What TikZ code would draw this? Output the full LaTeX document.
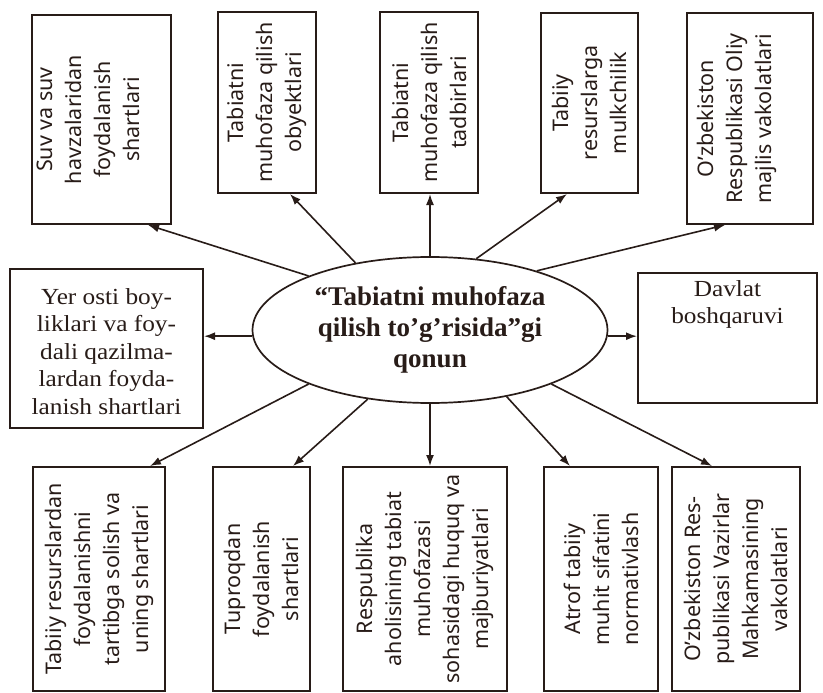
\documentclass[tikz,border=0pt]{standalone}
\usepackage{fontspec}
\setmainfont{Liberation Serif}
\newfontfamily\boxsans{Noto Sans}
\newfontfamily\midserif[FakeStretch=1.1]{Liberation Serif}
\usetikzlibrary{arrows.meta,shapes.geometric}
\definecolor{ink}{RGB}{40,28,24}

\begin{document}
\begin{tikzpicture}[x=1pt, y=-1pt]
\tikzset{basicbox/.style={draw=ink, line width=2pt, fill=white, inner sep=0pt}, vtext/.style={rotate=90, align=center, text=ink, font=\boxsans\fontsize{21.5}{29}\selectfont}, htext/.style={align=center, text=ink, font=\midserif\fontsize{23}{27.5}\selectfont}, arrowstyle/.style={-{Latex[length=11pt,width=8pt]}, line width=1.6pt, ink}}
\useasboundingbox (0,0) rectangle (823,693);
\node[basicbox, minimum width=139, minimum height=209] (suv) at (101.5,119.5) {};
\node[vtext] (suvtext) at ([xshift=-13]suv.center) {Suv va suv\\havzalaridan\\foydalanish\\shartlari};
\node[basicbox, minimum width=98, minimum height=181] (obyekt) at (267,102.5) {};
\node[vtext] (obyekttext) at (obyekt.center) {Tabiatni\\muhofaza qilish\\obyektlari};
\node[basicbox, minimum width=98, minimum height=181] (tadbir) at (429,102.5) {};
\node[vtext] (tadbirtext) at (tadbir.center) {Tabiatni\\muhofaza qilish\\tadbirlari};
\node[basicbox, minimum width=97, minimum height=180] (mulk) at (589.5,103) {};
\node[vtext] (mulktext) at (mulk.center) {Tabiiy\\resurslarga\\mulkchilik};
\node[basicbox, minimum width=126, minimum height=211] (oliy) at (750,118.5) {};
\node[vtext] (oliytext) at ([xshift=-13]oliy.center) {O’zbekiston\\Respublikasi Oliy\\majlis vakolatlari};
\node[basicbox, minimum width=193, minimum height=159] (yer) at (106.5,348.5) {};
\node[htext] (yertext) at ([yshift=-3]yer.center) {Yer osti boy-\\liklari va foy-\\dali qazilma-\\lardan foyda-\\lanish shartlari};
\node[ellipse, draw=ink, line width=1.7pt, fill=white, minimum width=355, minimum height=146, inner sep=0pt, align=center, text=ink, font=\bfseries\fontsize{27}{31}\selectfont] (law) at (430,330) {“Tabiatni muhofaza\\qilish to’g’risida”gi\\qonun};
\node[basicbox, minimum width=179, minimum height=130] (davlat) at (727.5,338) {};
\node[htext, anchor=north, inner sep=8pt] (davlattext) at (davlat.north) {Davlat\\boshqaruvi};
\node[basicbox, minimum width=132, minimum height=224] (resurs) at (99,579) {};
\node[vtext] (resurstext) at (resurs.center) {Tabiiy resurslardan\\foydalanishni\\tartibga solish va\\uning shartlari};
\node[basicbox, minimum width=97, minimum height=224] (tuproq) at (261.5,579) {};
\node[vtext] (tuproqtext) at (tuproq.center) {Tuproqdan\\foydalanish\\shartlari};
\node[basicbox, minimum width=164, minimum height=224] (respub) at (425,579) {};
\node[vtext] (respubtext) at (respub.center) {Respublika\\aholisining tabiat\\muhofazasi\\sohasidagi huquq va\\majburiyatlari};
\node[basicbox, minimum width=114, minimum height=224] (atrof) at (601,579) {};
\node[vtext] (atroftext) at (atrof.center) {Atrof tabiiy\\muhit sifatini\\normativlash};
\node[basicbox, minimum width=128, minimum height=224] (vazir) at (736,579) {};
\node[vtext] (vazirtext) at (vazir.center) {O’zbekiston Res-\\publikasi Vazirlar\\Mahkamasining\\vakolatlari};
\draw[arrowstyle] (law.156) -- ([xshift=46.5]suv.south);
\draw[arrowstyle] (law.138) -- ([xshift=23]obyekt.south);
\draw[arrowstyle] (law.90) -- (law.90 |- tadbir.south);
\draw[arrowstyle] (law.57) -- ([xshift=-22.5]mulk.south);
\draw[arrowstyle] (law.29) -- ([xshift=-25]oliy.south);
\draw[arrowstyle] (law.182) -- (law.182 -| yer.east);
\draw[arrowstyle] (law.358) -- (law.358 -| davlat.west);
\draw[arrowstyle] (law.204) -- ([xshift=51]resurs.north);
\draw[arrowstyle] (law.228) -- ([xshift=31.5]tuproq.north);
\draw[arrowstyle] (law.270) -- (law.270 |- respub.north);
\draw[arrowstyle] (law.319) -- ([xshift=-31]atrof.north);
\draw[arrowstyle] (law.336) -- ([xshift=-24]vazir.north);
\end{tikzpicture}
\end{document}
